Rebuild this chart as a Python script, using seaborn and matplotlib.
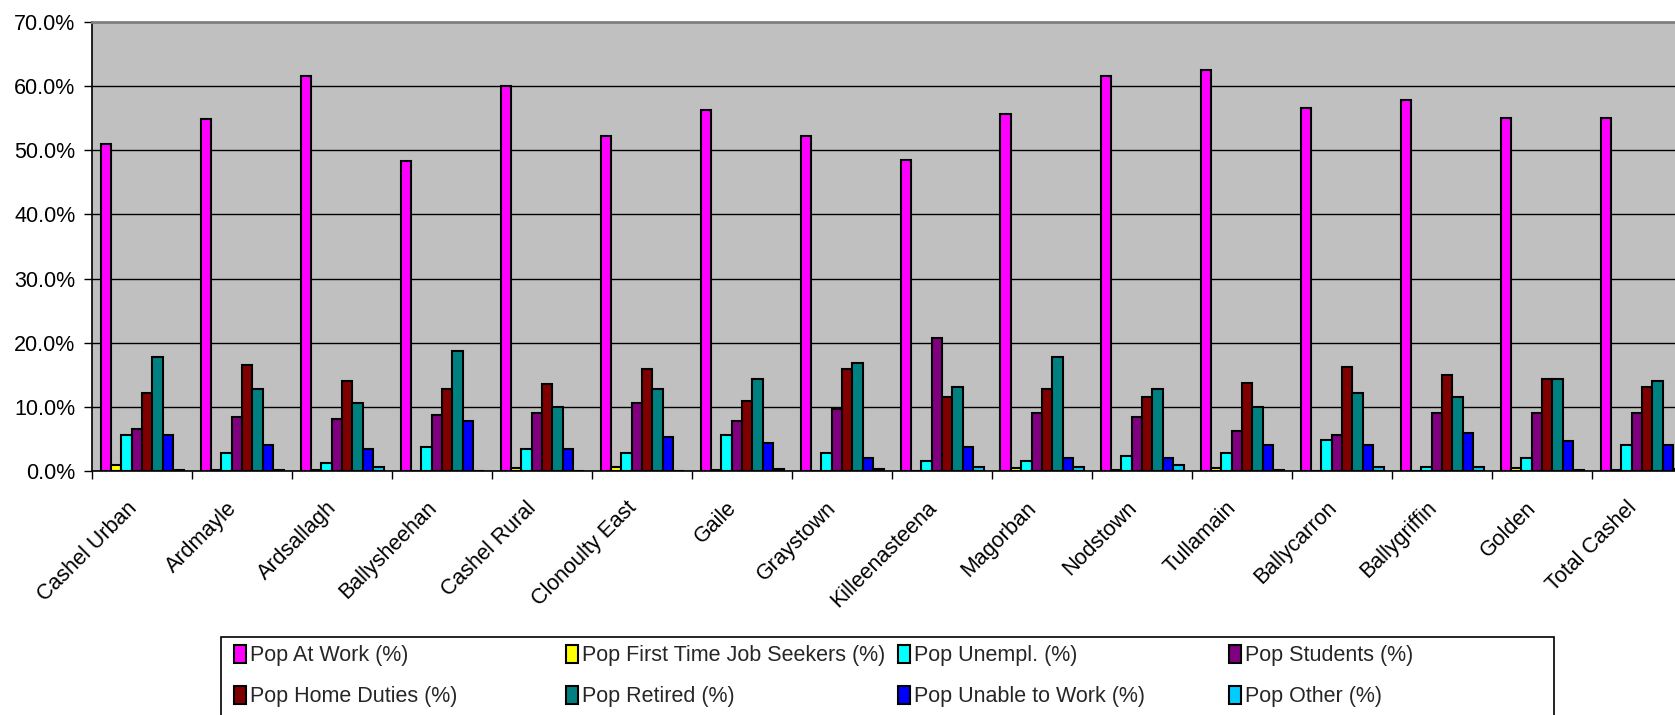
import pandas as pd
import matplotlib
matplotlib.use("Agg")
import matplotlib.pyplot as plt
import matplotlib.transforms as mtransforms
import seaborn as sns
from matplotlib.patches import Rectangle
from matplotlib.ticker import FixedLocator, StrMethodFormatter

# areas in chart order
areas = ["Cashel Urban", "Ardmayle", "Ardsallagh", "Ballysheehan", "Cashel Rural",
         "Clonoulty East", "Gaile", "Graystown", "Killeenasteena", "Magorban",
         "Nodstown", "Tullamain", "Ballycarron", "Ballygriffin", "Golden", "Total Cashel"]

series = ["Pop At Work (%)", "Pop First Time Job Seekers (%)", "Pop Unempl. (%)",
          "Pop Students (%)", "Pop Home Duties (%)", "Pop Retired (%)",
          "Pop Unable to Work (%)", "Pop Other (%)"]

at_work = [51.0, 54.8, 61.6, 48.3, 60.1, 52.2, 56.3, 52.2, 48.5, 55.7, 61.6, 62.5, 56.6, 57.8, 55.0, 55.0]
first_time = [1.0, 0.2, 0.2, 0.0, 0.5, 0.7, 0.2, 0.0, 0.0, 0.5, 0.2, 0.5, 0.0, 0.0, 0.5, 0.1]
unempl = [5.6, 2.8, 1.3, 3.7, 3.4, 2.8, 5.6, 2.8, 1.5, 1.5, 2.4, 2.8, 4.9, 0.6, 2.1, 4.0]
students = [6.5, 8.4, 8.1, 8.7, 9.0, 10.6, 7.8, 9.6, 20.8, 9.0, 8.4, 6.2, 5.6, 9.0, 9.0, 9.0]
home_duties = [12.1, 16.5, 14.1, 12.8, 13.6, 15.9, 10.9, 15.9, 11.5, 12.8, 11.5, 13.7, 16.2, 14.9, 14.3, 13.1]
retired = [17.8, 12.8, 10.6, 18.7, 10.0, 12.8, 14.3, 16.8, 13.1, 17.8, 12.8, 9.9, 12.1, 11.5, 14.3, 14.0]
unable = [5.6, 4.1, 3.4, 7.8, 3.4, 5.3, 4.3, 2.1, 3.7, 2.1, 2.1, 4.0, 4.0, 5.9, 4.6, 4.0]
other = [0.2, 0.2, 0.7, 0.0, 0.0, 0.0, 0.3, 0.3, 0.6, 0.6, 0.9, 0.2, 0.6, 0.6, 0.2, 0.3]

colours = ["#FF00FF", "#FFFF00", "#00FFFF", "#800080", "#800000", "#008080", "#0000FF", "#00CCFF"]

wide = pd.DataFrame(dict(zip(series, [at_work, first_time, unempl, students,
                                      home_duties, retired, unable, other])))
wide["area"] = areas
long = wide.melt(id_vars="area", var_name="series", value_name="value")

sns.set_theme(style="white")
plt.rcParams["font.family"] = ["Liberation Sans", "DejaVu Sans"]

fig = plt.figure(figsize=(16.75, 7.15), dpi=100)
ax = fig.add_axes([92 / 1675, 244 / 715, 1600 / 1675, 449 / 715])
ax.set_facecolor("#C0C0C0")

sns.barplot(data=long, x="area", y="value", hue="series", order=areas, hue_order=series,
            palette=colours, saturation=1, width=0.83, errorbar=None,
            edgecolor="black", linewidth=1.5, ax=ax)

ax.set_xlim(-0.5, len(areas) - 0.5)
ax.set_ylim(0, 70)
ax.set_yticks(range(0, 71, 10))
ax.yaxis.set_major_formatter(StrMethodFormatter("{x:.1f}%"))
ax.yaxis.grid(True, color="#000000", linewidth=1)
ax.set_axisbelow(True)
ax.set_xlabel("")
ax.set_ylabel("")

# ticks between categories like the original
ax.xaxis.set_minor_locator(FixedLocator([i - 0.5 for i in range(len(areas) + 1)]))
ax.tick_params(axis="x", which="major", length=0, pad=14, labelsize=15.5, colors="black")
ax.tick_params(axis="x", which="minor", length=6, width=1, direction="out", bottom=True, color="black")
ax.tick_params(axis="y", length=6, width=1, direction="out", left=True, labelsize=15.5,
               colors="black", pad=6)
ax.set_xticks(range(len(areas)))
ax.set_xticklabels(areas, rotation=45, ha="right", va="top", rotation_mode="anchor")
shift = mtransforms.ScaledTranslation(-16 / 100, -7 / 100, fig.dpi_scale_trans)
for lbl in ax.get_xticklabels():
    lbl.set_transform(lbl.get_transform() + shift)

for side in ["left", "bottom"]:
    ax.spines[side].set_color("black")
    ax.spines[side].set_linewidth(1.2)
ax.spines["top"].set_color("#808080")
ax.spines["top"].set_linewidth(2)
ax.spines["right"].set_visible(False)

# legend, 4 equal columns inside one box
handles, labels = ax.get_legend_handles_labels()
ax.get_legend().remove()

frame = Rectangle((221 / 1675, -0.05), 1333 / 1675, 0.05 + (715 - 637) / 715,
                  transform=fig.transFigure, facecolor="white", edgecolor="black",
                  linewidth=1.2, zorder=0)
fig.add_artist(frame)

col_x = [234, 566, 898, 1229]
for j, x in enumerate(col_x):
    leg = fig.legend([handles[j], handles[j + 4]], [labels[j], labels[j + 4]],
                     loc="upper left", bbox_to_anchor=(x / 1675, (715 - 645) / 715),
                     frameon=False, fontsize=15.5, handlelength=0.55, handleheight=0.9,
                     handletextpad=0.2, labelspacing=0.9, borderpad=0, borderaxespad=0)
    leg.set_zorder(2)

fig.savefig("out.png", dpi=100)
